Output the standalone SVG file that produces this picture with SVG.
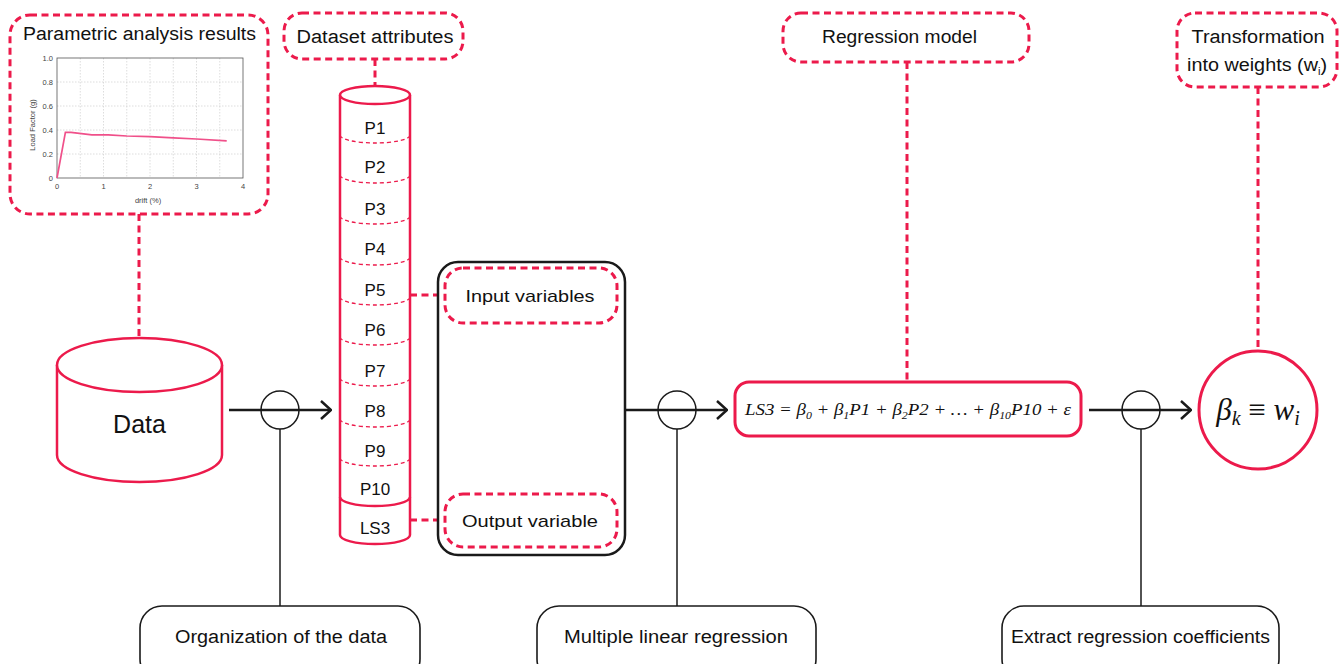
<svg xmlns="http://www.w3.org/2000/svg" width="1339" height="664" viewBox="0 0 1339 664">
<defs>
<style>
.rd{fill:none;stroke:#EC1A4B;stroke-width:3;stroke-dasharray:7,4.5}
.rs{fill:#fff;stroke:#EC1A4B;stroke-width:2.5}
.sep{fill:none;stroke:#EC1A4B;stroke-width:1.3;stroke-dasharray:4,3}
.bk{fill:#fff;stroke:#1a1a1a;stroke-width:1.6}
.t{font-family:"Liberation Sans",Arial,sans-serif;fill:#111;text-anchor:middle}
.m{font-family:"Liberation Serif","DejaVu Serif",serif;font-style:italic;fill:#111;text-anchor:middle}
.ax{font-family:"Liberation Sans",Arial,sans-serif;fill:#444;font-size:7.5px}
.grid{stroke:#cfcfcf;stroke-width:0.7;stroke-dasharray:1.5,1.5}
.arr{stroke:#1a1a1a;stroke-width:2.5;fill:none}
.thin{stroke:#1a1a1a;stroke-width:1.5;fill:none}
</style>
<marker id="ah" viewBox="0 0 12 20" refX="11" refY="10" markerWidth="12" markerHeight="20" markerUnits="userSpaceOnUse" orient="auto">
<path d="M1,1 L11,10 L1,19" fill="none" stroke="#1a1a1a" stroke-width="2.5"/>
</marker>
</defs>
<rect width="1339" height="664" fill="#fff"/>

<g id="connectors">
<line class="rd" x1="139" y1="214" x2="139" y2="338"/>
<line class="rd" x1="375" y1="59" x2="375" y2="86"/>
<line class="rd" x1="907" y1="62" x2="907" y2="382"/>
<line class="rd" x1="1258" y1="87" x2="1258" y2="350"/>
<line class="rd" x1="410" y1="295" x2="445" y2="295"/>
<line class="rd" x1="410" y1="520" x2="445" y2="520"/>
<line class="arr" x1="229" y1="410" x2="331" y2="410" marker-end="url(#ah)"/>
<line class="arr" x1="625" y1="410" x2="727" y2="410" marker-end="url(#ah)"/>
<line class="arr" x1="1089" y1="410" x2="1191" y2="410" marker-end="url(#ah)"/>
<circle class="thin" cx="280" cy="410" r="19"/>
<circle class="thin" cx="677" cy="410" r="19"/>
<circle class="thin" cx="1141" cy="410" r="19"/>
<line class="thin" x1="280" y1="429" x2="280" y2="606"/>
<line class="thin" x1="677" y1="429" x2="677" y2="606"/>
<line class="thin" x1="1141" y1="429" x2="1141" y2="606"/>
</g>

<g id="parametric">
<rect class="rd" x="10" y="15" width="258" height="199" rx="20"/>
<text class="t" x="139.5" y="40" font-size="18" textLength="233" lengthAdjust="spacingAndGlyphs">Parametric analysis results</text>
<g class="grid">
<line x1="80.25" y1="58" x2="80.25" y2="178"/>
<line x1="103.5" y1="58" x2="103.5" y2="178"/>
<line x1="126.75" y1="58" x2="126.75" y2="178"/>
<line x1="150" y1="58" x2="150" y2="178"/>
<line x1="173.25" y1="58" x2="173.25" y2="178"/>
<line x1="196.5" y1="58" x2="196.5" y2="178"/>
<line x1="219.75" y1="58" x2="219.75" y2="178"/>
<line x1="57" y1="82" x2="243" y2="82"/>
<line x1="57" y1="106" x2="243" y2="106"/>
<line x1="57" y1="130" x2="243" y2="130"/>
<line x1="57" y1="154" x2="243" y2="154"/>
</g>
<rect x="57" y="58" width="186" height="120" fill="none" stroke="#555" stroke-width="0.8"/>
<g class="ax" text-anchor="end">
<text x="53" y="60.5">1.0</text>
<text x="53" y="84.5">0.8</text>
<text x="53" y="108.5">0.6</text>
<text x="53" y="132.5">0.4</text>
<text x="53" y="156.5">0.2</text>
<text x="53" y="180.5">0</text>
</g>
<g class="ax" text-anchor="middle">
<text x="57" y="188.5">0</text>
<text x="103.5" y="188.5">1</text>
<text x="150" y="188.5">2</text>
<text x="196.5" y="188.5">3</text>
<text x="243" y="188.5">4</text>
</g>
<text class="ax" x="148" y="203" text-anchor="middle" font-size="9">drift (%)</text>
<text class="ax" transform="translate(35,125) rotate(-90)" text-anchor="middle" font-size="9">Load Factor (g)</text>
<polyline points="57,178 65.4,132.4 71,132.4 91.9,134.8 108.2,134.8 126.8,136 150,136.6 173.3,137.8 196.5,139 226.7,140.8" fill="none" stroke="#F0508A" stroke-width="1.7"/>
</g>

<g id="data">
<path class="rs" d="M57,365 L57,455 A82.5,27 0 0 0 222,455 L222,365"/>
<ellipse class="rs" cx="139.5" cy="365" rx="82.5" ry="27"/>
<text class="t" x="139.5" y="433" font-size="25">Data</text>
</g>

<g id="dataset-attributes">
<rect class="rd" x="284" y="13" width="179" height="46" rx="18"/>
<text class="t" x="375" y="43" font-size="18" textLength="157" lengthAdjust="spacingAndGlyphs">Dataset attributes</text>
</g>

<g id="attribute-column">
<path class="rs" d="M340,95 L340,535 A35,9 0 0 0 410,535 L410,95"/>
<ellipse class="rs" cx="375" cy="95" rx="35" ry="9"/>
<path class="sep" d="M340,135 A35,8 0 0 0 410,135"/>
<path class="sep" d="M340,175 A35,8 0 0 0 410,175"/>
<path class="sep" d="M340,216 A35,8 0 0 0 410,216"/>
<path class="sep" d="M340,257 A35,8 0 0 0 410,257"/>
<path class="sep" d="M340,297 A35,8 0 0 0 410,297"/>
<path class="sep" d="M340,337 A35,8 0 0 0 410,337"/>
<path class="sep" d="M340,378 A35,8 0 0 0 410,378"/>
<path class="sep" d="M340,419 A35,8 0 0 0 410,419"/>
<path class="sep" d="M340,458 A35,8 0 0 0 410,458"/>
<path d="M340,497 A35,9 0 0 0 410,497" fill="none" stroke="#EC1A4B" stroke-width="2.5"/>
<g class="t" font-size="17">
<text x="375" y="134">P1</text>
<text x="375" y="173">P2</text>
<text x="375" y="215">P3</text>
<text x="375" y="255">P4</text>
<text x="375" y="296">P5</text>
<text x="375" y="336">P6</text>
<text x="375" y="377">P7</text>
<text x="375" y="417">P8</text>
<text x="375" y="457">P9</text>
<text x="375" y="495">P10</text>
<text x="375" y="534">LS3</text>
</g>
</g>

<g id="variables">
<rect x="438" y="262" width="187" height="293" rx="20" fill="#fff" stroke="#1a1a1a" stroke-width="2.5"/>
<rect class="rd" x="445" y="268" width="172" height="55" rx="18"/>
<text class="t" x="530" y="302" font-size="17" textLength="129" lengthAdjust="spacingAndGlyphs">Input variables</text>
<rect class="rd" x="445" y="494" width="172" height="53" rx="18"/>
<text class="t" x="530" y="527" font-size="17" textLength="136" lengthAdjust="spacingAndGlyphs">Output variable</text>
</g>

<g id="regression-model-label">
<rect class="rd" x="783" y="13" width="246" height="49" rx="18"/>
<text class="t" x="899.5" y="43" font-size="18" textLength="155" lengthAdjust="spacingAndGlyphs">Regression model</text>
</g>

<g id="regression-equation">
<rect x="735" y="382" width="346" height="54" rx="14" fill="#fff" stroke="#EC1A4B" stroke-width="3"/>
<text class="m" x="908" y="415" font-size="17.5" textLength="326" lengthAdjust="spacingAndGlyphs">LS3 = β<tspan font-size="11" dy="4">0</tspan><tspan dy="-4"> + β</tspan><tspan font-size="11" dy="4">1</tspan><tspan dy="-4">P1 + β</tspan><tspan font-size="11" dy="4">2</tspan><tspan dy="-4">P2 + … + β</tspan><tspan font-size="11" dy="4">10</tspan><tspan dy="-4">P10 + ε</tspan></text>
</g>

<g id="transformation-label">
<rect class="rd" x="1177" y="13" width="160" height="74" rx="18"/>
<text class="t" x="1258" y="43" font-size="18" textLength="133" lengthAdjust="spacingAndGlyphs">Transformation</text>
<text class="t" x="1257" y="71" font-size="18" textLength="140" lengthAdjust="spacingAndGlyphs">into weights (w<tspan font-size="10" dy="4">i</tspan><tspan dy="-4">)</tspan></text>
</g>

<g id="weights">
<circle cx="1258" cy="410" r="59" fill="#fff" stroke="#EC1A4B" stroke-width="3"/>
<text class="m" x="1258" y="420" font-size="31">β<tspan font-size="20" dy="5">k</tspan><tspan dy="-5" font-style="normal"> ≡ </tspan>w<tspan font-size="20" dy="5">i</tspan></text>
</g>

<g id="organization">
<rect class="bk" x="140" y="606" width="280" height="75" rx="22"/>
<text class="t" x="281" y="643" font-size="18" textLength="212" lengthAdjust="spacingAndGlyphs">Organization of the data</text>
</g>
<g id="mlr">
<rect class="bk" x="537" y="606" width="279" height="75" rx="22"/>
<text class="t" x="676" y="643" font-size="18" textLength="224" lengthAdjust="spacingAndGlyphs">Multiple linear regression</text>
</g>
<g id="extract">
<rect class="bk" x="1002" y="606" width="277" height="75" rx="22"/>
<text class="t" x="1140.5" y="643" font-size="18" textLength="259" lengthAdjust="spacingAndGlyphs">Extract regression coefficients</text>
</g>
</svg>
